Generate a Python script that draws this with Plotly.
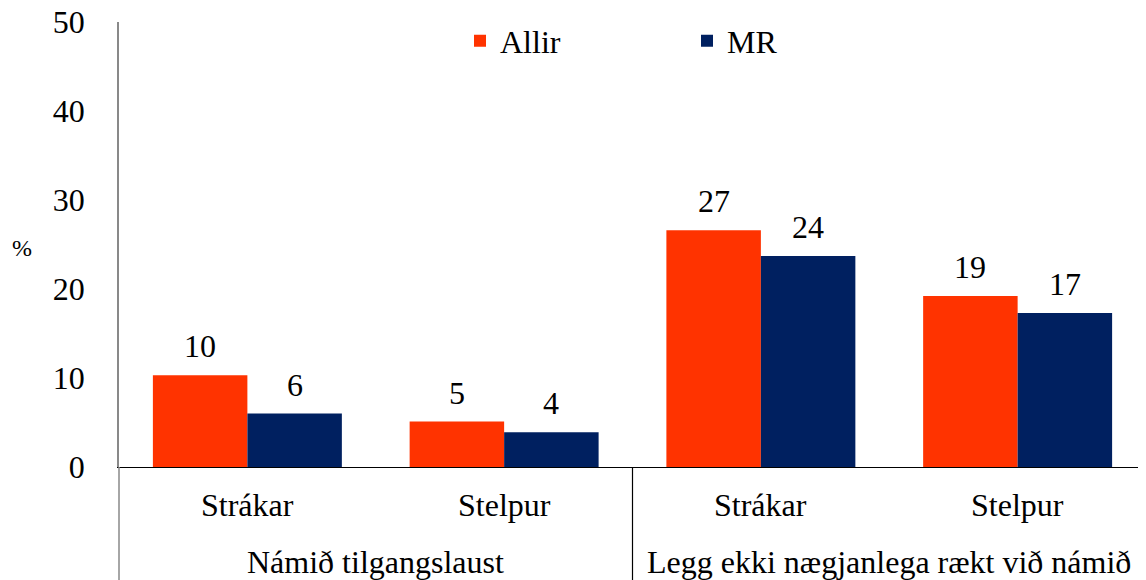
import plotly.graph_objects as go

groups = ["Námið tilgangslaust", "Legg ekki nægjanlega rækt við námið"]
subcats = ["Strákar", "Stelpur", "Strákar", "Stelpur"]
allir = [10.3, 5.1, 26.6, 19.2]
mr = [6.0, 3.9, 23.7, 17.3]
series_names = ["Allir", "MR"]
colors = ["#FF3300", "#002060"]
yticks = [0, 10, 20, 30, 40, 50]

FONT = "Liberation Serif"
FS = 32
# page has an 8px body margin: figure coordinates = page coordinates - 8
W, H = 1138, 572
ML, MR_, MT, MB = 111, 0, 14, 113

x = list(range(len(subcats)))
bw = 0.368


def lab(v):
    return str(int(v + 0.5))


fig = go.Figure()
fig.add_trace(go.Bar(x=x, y=allir, name=series_names[0], width=bw, offset=-bw,
                     marker=dict(color=colors[0], line=dict(width=0))))
fig.add_trace(go.Bar(x=x, y=mr, name=series_names[1], width=bw, offset=0,
                     marker=dict(color=colors[1], line=dict(width=0))))

ann = []
for i, v in enumerate(allir):
    ann.append(dict(x=i - bw / 2, y=v, text=lab(v), showarrow=False,
                    yanchor="bottom", yshift=9, font=dict(family=FONT, size=FS, color="black")))
for i, v in enumerate(mr):
    ann.append(dict(x=i + bw / 2, y=v, text=lab(v), showarrow=False,
                    yanchor="bottom", yshift=9, font=dict(family=FONT, size=FS, color="black")))

ph = H - MT - MB
for i, s in enumerate(subcats):
    ann.append(dict(x=i, y=-38 / ph, yref="paper", text=s, showarrow=False,
                    yanchor="middle", font=dict(family=FONT, size=FS, color="black")))
for j, g in enumerate(groups):
    ann.append(dict(x=2 * j + 0.5, y=-95 / ph, yref="paper", text=g, showarrow=False,
                    yanchor="middle", font=dict(family=FONT, size=FS, color="black")))
ann.append(dict(x=(22 - 8 - ML) / (W - ML - MR_), xref="paper", y=(467 - 248) / ph, yref="paper",
                text="%", showarrow=False, xanchor="center", yanchor="middle",
                font=dict(family=FONT, size=24, color="black")))

shapes = [
    dict(type="line", xref="paper", yref="paper", x0=0, x1=0, y0=0, y1=-MB / ph,
         line=dict(color="#898989", width=1.5)),
    dict(type="line", xref="x", yref="paper", x0=1.5, x1=1.5, y0=0, y1=-MB / ph,
         line=dict(color="black", width=1.2)),
]

fig.update_layout(
    width=W, height=H,
    margin=dict(l=ML, r=MR_, t=MT, b=MB, autoexpand=False),
    paper_bgcolor="white", plot_bgcolor="white",
    font=dict(family=FONT, size=FS, color="black"),
    barmode="group",
    showlegend=True,
    xaxis=dict(range=[-0.5, 3.5], showticklabels=False, showgrid=False, zeroline=False,
               showline=True, linecolor="black", linewidth=1.2, ticks=""),
    yaxis=dict(range=[0, 50], tickvals=yticks, showgrid=False, zeroline=False,
               showline=True, linecolor="#898989", linewidth=1.5,
               ticks="outside", ticklen=26, tickcolor="rgba(0,0,0,0)",
               ticklabeloverflow="allow",
               tickfont=dict(family=FONT, size=FS, color="black")),
    legend=dict(orientation="h", xref="container", yref="container",
                x=452 / W, y=1 - 33 / H, xanchor="left", yanchor="middle",
                entrywidth=182,
                font=dict(family=FONT, size=FS), bgcolor="rgba(0,0,0,0)"),
    annotations=ann,
    shapes=shapes,
)

fig.write_html("out.html")
